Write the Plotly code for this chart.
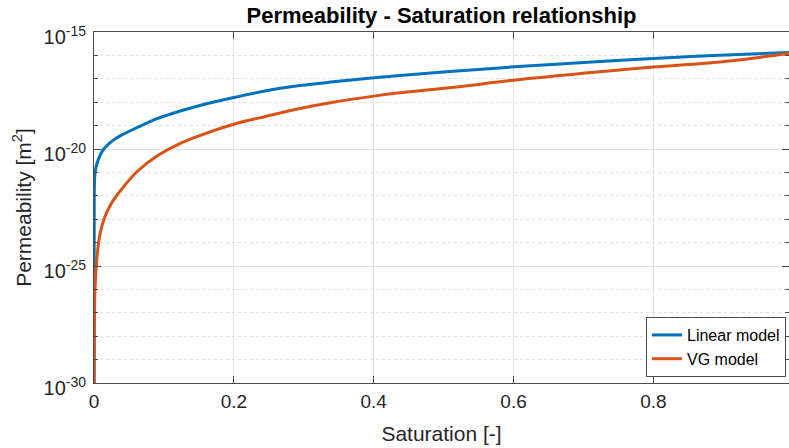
import numpy as np
import plotly.graph_objects as go

# Saturation values
sat_linear = [0.0001, 0.0003, 0.0006, 0.0014, 0.0043, 0.0100, 0.0139, 0.0196, 0.0282, 0.0386,
              0.0625, 0.0912, 0.1198, 0.15, 0.2, 0.2467, 0.2944, 0.342, 0.4003, 0.4375,
              0.5186, 0.6006, 0.7237, 0.8, 0.8955, 0.994]
# log10 of permeability [m^2]
logk_linear = [-31.0, -23.0, -21.61, -21.04, -20.61, -20.19, -20.00, -19.82, -19.61, -19.42,
               -19.07, -18.69, -18.41, -18.15, -17.80, -17.51, -17.29, -17.13, -16.96, -16.86,
               -16.67, -16.49, -16.26, -16.13, -15.99, -15.88]

sat_vg = [0.0001, 0.0003, 0.0006, 0.0014, 0.0029, 0.0053, 0.0092, 0.0149, 0.0243, 0.0386,
          0.0625, 0.0912, 0.1198, 0.15, 0.2, 0.2467, 0.2944, 0.342, 0.4003, 0.4375, 0.5186,
          0.6, 0.7237, 0.8, 0.8955, 0.953, 0.994]
logk_vg = [-31.0, -29.0, -27.44, -26.02, -25.17, -24.31, -23.55, -22.95, -22.35, -21.75,
           -20.94, -20.28, -19.81, -19.44, -18.94, -18.60, -18.27, -18.00, -17.74, -17.60, -17.35,
           -17.06, -16.70, -16.50, -16.28, -16.08, -15.92]

x_ticks = [0, 0.2, 0.4, 0.6, 0.8]
x_ticktext = ["0", "0.2", "0.4", "0.6", "0.8"]
y_ticks = [1e-30, 1e-25, 1e-20, 1e-15]
y_ticktext = ["10<sup>-30</sup>", "10<sup>-25</sup>", "10<sup>-20</sup>", "10<sup>-15</sup>"]

FONT = "Liberation Sans, Arial, Helvetica, sans-serif"
TXT = "#262626"
AX = "#4a4a4a"

fig = go.Figure()
fig.add_trace(go.Scatter(x=sat_linear, y=np.power(10.0, logk_linear), mode="lines",
                         name="Linear model",
                         line=dict(color="#0072BD", width=3, shape="spline", smoothing=1.0)))
fig.add_trace(go.Scatter(x=sat_vg, y=np.power(10.0, logk_vg), mode="lines",
                         name="VG model",
                         line=dict(color="#D95319", width=3, shape="spline", smoothing=1.0)))

fig.update_layout(
    width=789, height=448,
    margin=dict(l=94, r=0, t=32, b=65),
    paper_bgcolor="white", plot_bgcolor="white",
    font=dict(family=FONT, color=TXT, size=18),
    title=dict(text="<b>Permeability - Saturation relationship</b>",
               x=0.5, xref="paper", xanchor="center", y=0.966, yanchor="middle",
               font=dict(size=22, color="black")),
    showlegend=True,
    legend=dict(x=0.9957, y=0.017, xanchor="right", yanchor="bottom",
                bgcolor="white", bordercolor=AX, borderwidth=1,
                font=dict(size=16, color="black"), itemwidth=30,
                tracegroupgap=0),
)
fig.update_xaxes(
    range=[0, 0.994], tickvals=x_ticks, ticktext=x_ticktext,
    showline=True, linecolor=AX, linewidth=1, mirror="allticks",
    ticks="inside", ticklen=7, tickcolor=AX, ticklabelstandoff=1,
    showgrid=True, gridcolor="#e3e3e3", gridwidth=1, zeroline=False,
    tickfont=dict(size=19, color=TXT),
    title=dict(text="Saturation [-]", font=dict(size=21, color=TXT), standoff=15),
)
fig.update_yaxes(
    type="log", range=[-30, -15], tickvals=y_ticks, ticktext=y_ticktext,
    showline=True, linecolor=AX, linewidth=1, mirror="allticks",
    ticks="inside", ticklen=7, tickcolor=AX, ticklabelstandoff=3, ticklabelshift=5,
    showgrid=True, gridcolor="#e3e3e3", gridwidth=1, zeroline=False,
    tickfont=dict(size=20, color=TXT),
    minor=dict(dtick=1, ticks="inside", ticklen=4, tickcolor=AX,
               showgrid=True, gridcolor="#dedede", griddash="dot", gridwidth=1),
    title=dict(text="Permeability [m<sup>2</sup>]", font=dict(size=21, color=TXT), standoff=6),
)

fig.write_html("out.html")
